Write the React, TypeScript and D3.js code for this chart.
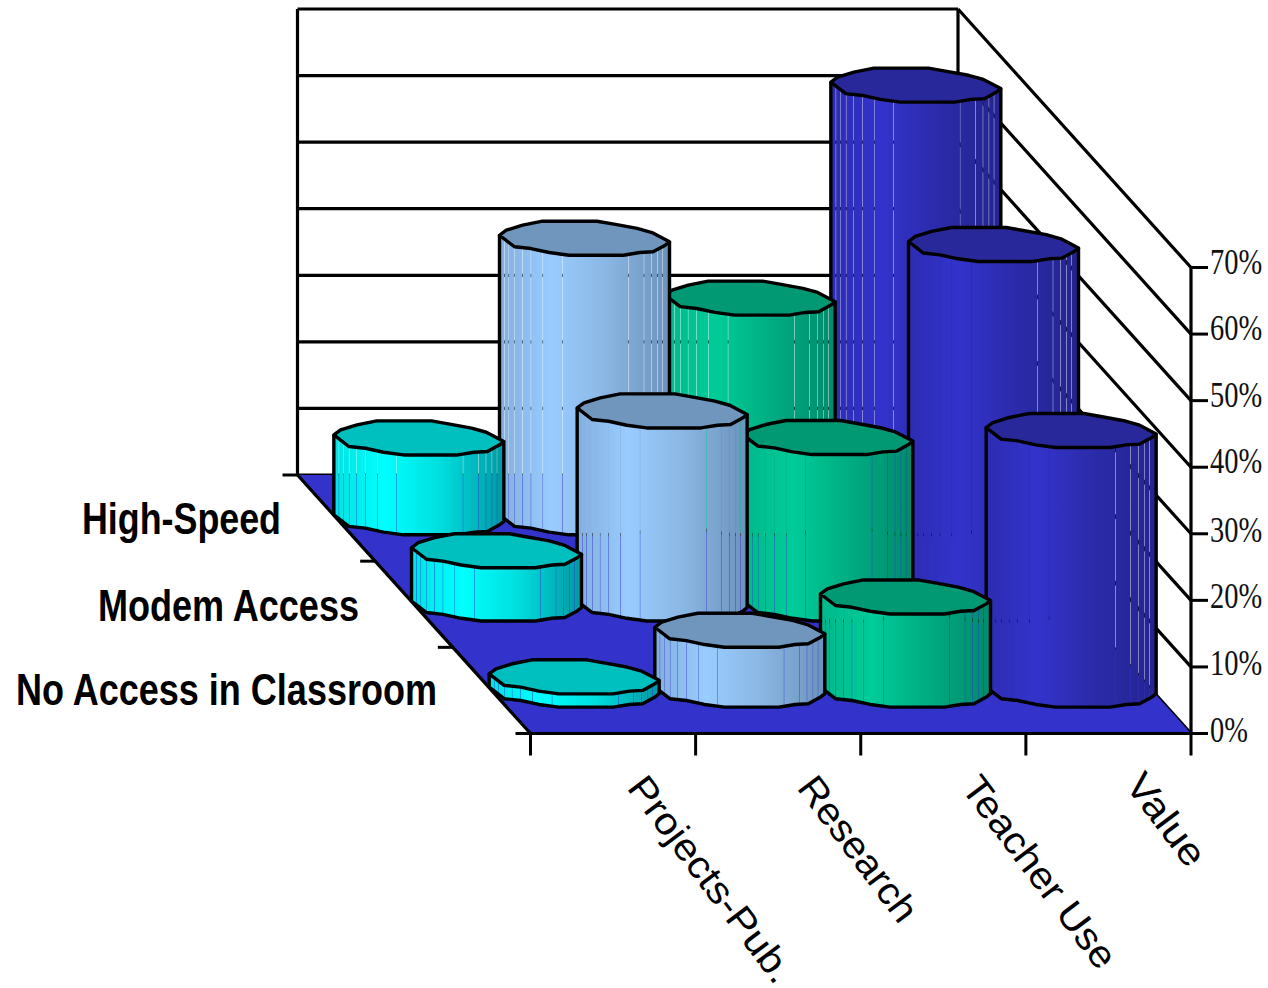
import React from "react";
import * as d3 from "d3";

// Survey shares (%), one array per depth row, front to back.
const categories = ["Projects-Pub.", "Research", "Teacher Use", "Value"];
const rowLabels = ["No Access in Classroom", "Modem Access", "High-Speed"];
const noAccess = [2, 9, 14, 39];
const modemAccess = [8, 29, 25, 54];
const highSpeed = [12, 42, 33, 65];
const rows = [noAccess, modemAccess, highSpeed];
const valueTicks = [0, 10, 20, 30, 40, 50, 60, 70];

// Cap, left, highlight, mid and right shades for each category.
const cylinderColors = [
  { cap: "#00bfbf", stops: ["#00e2e2", "#00ffff", "#00dfdf", "#0098a4"] },
  { cap: "#7096be", stops: ["#82aedd", "#99ccff", "#8bb7e4", "#6c92bb"] },
  { cap: "#009973", stops: ["#00b88c", "#00cc99", "#00ad82", "#008a6c"] },
  { cap: "#28289a", stops: ["#2c2cb2", "#3333cc", "#2b2bab", "#242490"] },
];
const floorColor = "#3333cc";

// Horizontal positions of the cylinder facets, as fractions of its width.
const facetEdges = [0, 0.03, 0.055, 0.09, 0.135, 0.185, 0.255, 0.37, 0.76, 0.85, 0.895, 0.93, 0.96, 1];

// The faceted cap rim: width fraction and vertical offset relative to the cap's half height.
const frontRimX = [0, 0.088, 0.185, 0.292, 0.409, 0.729, 0.825, 0.903, 0.975, 1];
const frontRimY = [-0.18, 0.46, 0.56, 0.78, 0.93, 0.93, 0.78, 0.74, 0.37, 0.18];
const backRimX = [0.04, 0.136, 0.253, 0.574, 0.682, 0.81, 0.897];
const backRimY = [-0.46, -0.74, -0.96, -0.96, -0.78, -0.56, -0.33];

const x = d3.scaleLinear().domain([0, 4]).range([530.5, 1191]);
const centerX = d3.scaleLinear().domain([0, 3]).range([613, 1110]);
const depthX = d3.scaleLinear().domain([0, 3]).range([0, -233]);
const depthY = d3.scaleLinear().domain([0, 3]).range([733.5, 475]);
const height = d3.scaleLinear().domain([0, 70]).range([0, 466]);

const capRx = 85;
const capRy = 18;
const rimY = d3.scaleLinear().domain(frontRimX).range(frontRimY);

function Cylinder({ col, row, value }: { col: number; row: number; value: number }) {
  const d = row + 0.5;
  const cx = centerX(col) + depthX(d);
  const baseY = depthY(d);
  const topY = baseY - height(value);
  const left = cx - capRx;
  const w = capRx * 2;
  const colors = cylinderColors[col];
  const gid = `shade-${row}-${col}`;
  const fx = (f: number) => left + f * w;
  const capPts: [number, number][] = [
    ...frontRimX.map((f, i) => [fx(f), topY + capRy * frontRimY[i]] as [number, number]),
    ...backRimX.map((f, i) => [fx(f), topY + capRy * backRimY[i]] as [number, number]).reverse(),
  ];
  const line = d3.line();
  const outline: [number, number][] = [
    [fx(0), topY + capRy * frontRimY[0]],
    ...frontRimX.map((f, i) => [fx(f), baseY + capRy * frontRimY[i]] as [number, number]),
    [fx(1), topY + capRy * frontRimY[frontRimY.length - 1]],
  ];
  const gap = 0.18;
  return (
    <g>
      <linearGradient id={gid} gradientUnits="userSpaceOnUse" x1={left} x2={left + w} y1={0} y2={0}>
        <stop offset="0" stopColor={colors.stops[0]} />
        <stop offset="0.3" stopColor={colors.stops[1]} />
        <stop offset="0.62" stopColor={colors.stops[2]} />
        <stop offset="1" stopColor={colors.stops[3]} />
      </linearGradient>
      {facetEdges.slice(0, -1).map((f, i) => {
        const g = facetEdges[i + 1];
        const a = fx(f) + gap;
        const b = fx(g) - gap;
        return (
          <path
            key={i}
            fill={`url(#${gid})`}
            d={
              line([
                [a, topY + capRy * rimY(f)],
                [b, topY + capRy * rimY(g)],
                [b, baseY + capRy * rimY(g)],
                [a, baseY + capRy * rimY(f)],
              ]) + "Z"
            }
          />
        );
      })}
      <path d={line(outline) as string} fill="none" stroke="#000" strokeWidth={3.4} strokeLinejoin="round" />
      <path d={line(capPts) + "Z"} fill={colors.cap} stroke="#000" strokeWidth={3.4} strokeLinejoin="round" />
    </g>
  );
}

export default function App() {
  const backL = x(0) + depthX(3);
  const backR = x(4) + depthX(3);
  const backBase = depthY(3);
  const frontBase = depthY(0);
  const stroke = { stroke: "#000", strokeWidth: 3.2, fill: "none" };
  const condensedSerif = { fontFamily: "'Liberation Serif'", fontSize: 36, fill: "#111" };
  const boldSans = { fontFamily: "'Liberation Sans'", fontWeight: 700, fontSize: 44, fill: "#000" };
  const leftLabelEnds = [437, 359, 281];
  const leftLabelBase = [705, 621, 534];
  const leftLabelWidths = [421, 261, 199];
  const bottomLabels = [
    { px: 626, py: 788, len: 248 },
    { px: 796, py: 788, len: 172 },
    { px: 960, py: 788, len: 230 },
    { px: 1124, py: 785, len: 106 },
  ];
  return (
    <svg width={1268} height={988} style={{ position: "absolute", left: 0, top: 0 }}>
      <rect width={1268} height={988} fill="#fff" />

      {/* Back and side walls */}
      {valueTicks.map((t) => (
        <g key={t} {...stroke}>
          <line x1={backL} x2={backR} y1={backBase - height(t)} y2={backBase - height(t)} />
          <line x1={backR} x2={x(4)} y1={backBase - height(t)} y2={frontBase - height(t)} />
        </g>
      ))}
      <line x1={backL} x2={backL} y1={backBase} y2={backBase - height(70)} {...stroke} />
      <line x1={backR} x2={backR} y1={backBase} y2={backBase - height(70)} {...stroke} />

      {/* Floor */}
      <path
        d={`M${backL},${backBase}L${backR},${backBase}L${x(4)},${frontBase}L${x(0)},${frontBase}Z`}
        fill={floorColor}
      />
      <line x1={backL} y1={backBase} x2={x(0)} y2={frontBase} {...stroke} />
      <line x1={x(0) - 15} x2={x(4)} y1={frontBase} y2={frontBase} {...stroke} />

      {/* Depth axis ticks */}
      {[1, 2, 3].map((d) => (
        <line
          key={d}
          x1={x(0) + depthX(d) - 15}
          x2={x(0) + depthX(d)}
          y1={depthY(d)}
          y2={depthY(d)}
          stroke="#000"
          strokeWidth={3}
        />
      ))}

      {/* Category axis ticks */}
      {[0, 1, 2, 3, 4].map((u) => (
        <line key={u} x1={x(u)} x2={x(u)} y1={frontBase} y2={frontBase + 22} stroke="#000" strokeWidth={3} />
      ))}

      {/* Value axis */}
      <line x1={x(4)} x2={x(4)} y1={frontBase} y2={frontBase - height(70)} {...stroke} />
      {valueTicks.map((t) => (
        <g key={t}>
          <line
            x1={x(4)}
            x2={x(4) + 17}
            y1={frontBase - height(t)}
            y2={frontBase - height(t)}
            stroke="#000"
            strokeWidth={3}
          />
          {/* Tick labels are set in a horizontally squeezed serif */}
          <text
            transform={`translate(1210,${frontBase - height(t) + (t <= 30 ? 8 : 6)}) scale(0.79,1)`}
            {...condensedSerif}
          >
            {`${t}%`}
          </text>
        </g>
      ))}

      {/* Cylinders, back row first, right to left */}
      {[2, 1, 0].map((r) =>
        [3, 2, 1, 0].map((c) => <Cylinder key={`${r}-${c}`} row={r} col={c} value={rows[r][c]} />)
      )}

      {/* Row labels */}
      {rowLabels.map((label, i) => (
        <text
          key={label}
          x={leftLabelEnds[i] - leftLabelWidths[i]}
          y={leftLabelBase[i]}
          textLength={leftLabelWidths[i]}
          lengthAdjust="spacingAndGlyphs"
          {...boldSans}
        >
          {label}
        </text>
      ))}

      {/* Category labels */}
      {categories.map((label, i) => (
        <text
          key={label}
          transform={`translate(${bottomLabels[i].px},${bottomLabels[i].py}) rotate(53)`}
          textLength={bottomLabels[i].len}
          lengthAdjust="spacingAndGlyphs"
          fontFamily="'Liberation Sans'"
          fontSize={38}
          fill="#000"
        >
          {label}
        </text>
      ))}
    </svg>
  );
}
